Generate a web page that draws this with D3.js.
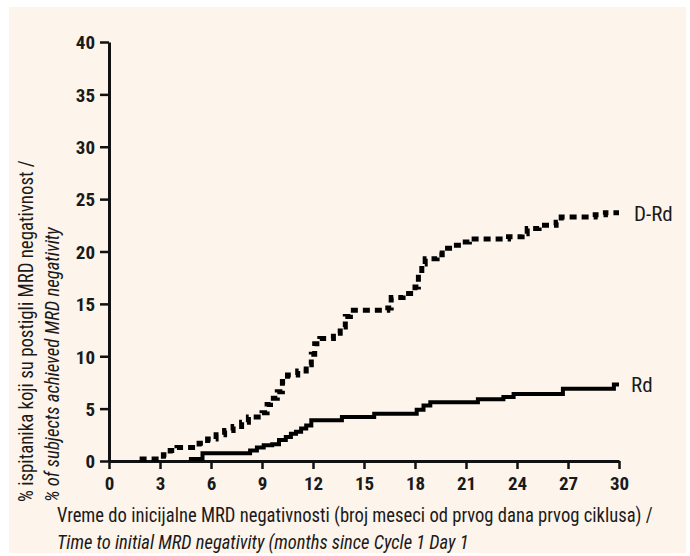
<!DOCTYPE html>
<html><head><meta charset="utf-8">
<script src="https://cdn.jsdelivr.net/npm/d3@7"></script>
<style>
html,body{margin:0;padding:0;background:#fff;}
svg{display:block;}
.tick text{font-family:"Roboto Condensed",Roboto,sans-serif;font-weight:bold;font-size:19px;fill:#1a1a1a;}
.ttl{font-family:"Roboto Condensed",Roboto,sans-serif;font-size:21px;fill:#1a1a1a;}
</style></head>
<body>
<script>
// ---- data ----
const xTicks = [0,3,6,9,12,15,18,21,24,27,30];
const yTicks = [0,5,10,15,20,25,30,35,40];
const seriesNames = ["D-Rd","Rd"];
const drdMonths = [1.8,3.2,3.6,4.0,5.3,5.8,6.3,6.8,7.3,7.8,8.2,9.0,9.3,9.5,9.9,10.2,10.5,11.1,11.6,11.9,12.1,12.4,13.2,13.6,13.9,14.2,16.4,16.6,17.3,18.0,18.2,18.4,18.6,19.3,19.6,20.2,20.8,21.2,23.5,24.3,24.6,25.3,26.3,26.6,28.6,29.2,30];
const drdValues = [0.2,0.6,1.0,1.3,1.7,2.1,2.5,2.9,3.3,3.7,4.2,4.6,5.4,6.0,6.6,7.6,8.2,8.6,9.2,10.2,11.2,11.7,12.2,12.8,13.8,14.4,14.6,15.6,16.0,16.6,17.8,18.8,19.3,19.7,20.3,20.6,20.9,21.2,21.4,21.7,22.2,22.5,22.8,23.3,23.5,23.7,23.7];
const rdMonths = [4.7,5.5,8.3,8.7,9.1,9.6,10.0,10.4,10.7,11.0,11.3,11.6,11.9,13.7,15.6,18.1,18.5,18.9,21.7,23.2,23.8,26.7,29.7,30];
const rdValues = [0.2,0.75,1.0,1.3,1.5,1.6,2.0,2.3,2.6,2.8,3.1,3.4,3.9,4.2,4.5,4.9,5.3,5.6,5.9,6.1,6.4,6.9,7.3,7.3];
const xTitle1 = "Vreme do inicijalne MRD negativnosti (broj meseci od prvog dana prvog ciklusa) /";
const xTitle2 = "Time to initial MRD negativity (months since  Cycle 1 Day 1";
const yTitle1 = "% ispitanika koji su postigli MRD negativnost /";
const yTitle2 = "% of subjects achieved MRD negativity";

const W = 690, H = 556;
const svg = d3.select("body").append("svg").attr("width", W).attr("height", H);
svg.append("rect").attr("x",9).attr("y",7).attr("width",677).attr("height",546).attr("fill","#fdf4eb");

const x = d3.scaleLinear().domain([0,30]).range([109,619]);
const y = d3.scaleLinear().domain([0,40]).range([461,42]);

// axes
const gx = svg.append("g").attr("transform","translate(0,461)")
  .call(d3.axisBottom(x).tickValues(xTicks).tickSize(8).tickSizeOuter(0).tickPadding(8));
const gy = svg.append("g").attr("transform","translate(109,0)")
  .call(d3.axisLeft(y).tickValues(yTicks).tickSize(9).tickSizeOuter(0).tickPadding(5));
[gx,gy].forEach(g=>{
  g.select(".domain").attr("stroke","#111").attr("stroke-width",3);
  g.selectAll(".tick line").attr("stroke","#111").attr("stroke-width",2.5);
});
gy.selectAll(".tick text").attr("dy","0.36em");

// lines
const line = d3.line().x(d=>x(d[0])).y(d=>y(d[1])).curve(d3.curveStepAfter);
const drd = drdMonths.map((m,i)=>[m,drdValues[i]]);
const rd = rdMonths.map((m,i)=>[m,rdValues[i]]);
svg.append("path").datum(rd).attr("d",line).attr("fill","none").attr("stroke","#000")
  .attr("stroke-width",4).attr("stroke-linejoin","miter");
svg.append("path").datum(drd).attr("d",line).attr("fill","none").attr("stroke","#000")
  .attr("stroke-width",5).attr("stroke-dasharray","7,5");

// series labels
svg.append("text").attr("class","ttl").attr("x",634).attr("y",y(drdValues[drdValues.length-1])+8).text(seriesNames[0]);
svg.append("text").attr("class","ttl").attr("x",631).attr("y",y(rdValues[rdValues.length-1])+7).text(seriesNames[1]);

// titles: condensed by horizontal scaling to the measured width
function fitText(str, tx, ty, rot, target, italic){
  const t = svg.append("text").attr("class","ttl").text(str);
  if (italic) t.attr("font-style","italic");
  const len = t.node().getComputedTextLength();
  t.attr("transform", `translate(${tx},${ty}) rotate(${rot}) scale(${target/len},1)`);
  return t;
}
fitText(xTitle1, 57, 522, 0, 596, false);
fitText(xTitle2, 57, 549, 0, 412, true);
fitText(yTitle1, 33, 502, -90, 342, false);
fitText(yTitle2, 59, 502, -90, 275, true);
</script>
</body></html>
